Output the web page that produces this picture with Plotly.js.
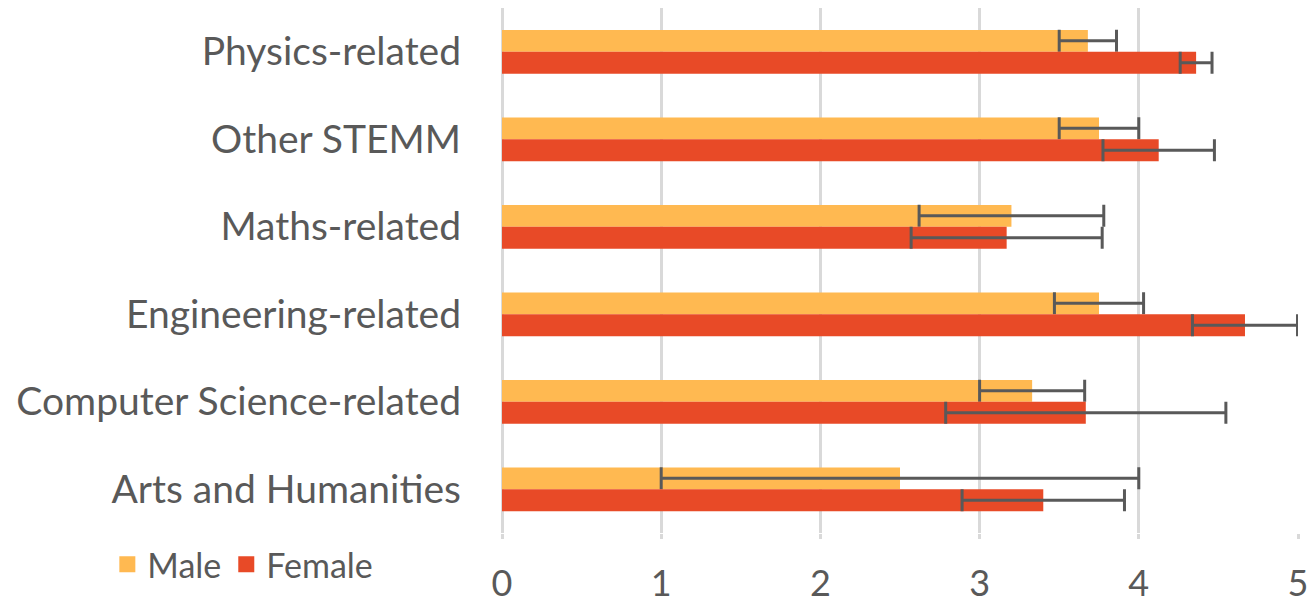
<!DOCTYPE html>
<html>
<head>
<meta charset="utf-8">
<script src="https://cdn.plot.ly/plotly-3.0.1.min.js"></script>
<style>html,body{margin:0;padding:0;background:#fff;}#chart{width:1309px;height:604px;}</style>
</head>
<body>
<div id="chart"></div>
<script>
const categories = ["Physics-related", "Other STEMM", "Maths-related", "Engineering-related", "Computer Science-related", "Arts and Humanities"];
const maleValues = [3.68, 3.75, 3.2, 3.75, 3.33, 2.5];
const maleErrors = [0.18, 0.25, 0.58, 0.28, 0.33, 1.5];
const femaleValues = [4.36, 4.125, 3.17, 4.667, 3.667, 3.4];
const femaleErrors = [0.1, 0.35, 0.6, 0.33, 0.88, 0.51];
const xTicks = [0, 1, 2, 3, 4, 5];
const seriesNames = ["Male", "Female"];
const seriesColors = ["#FFB951", "#E84A27"];

const FONT = "Lato, 'Liberation Sans', sans-serif";
const errStyle = {color: '#595959', thickness: 3, width: 11};

const traces = [
  {type: 'bar', orientation: 'h', name: seriesNames[0], y: categories, x: maleValues,
   marker: {color: seriesColors[0]}, showlegend: false,
   error_x: Object.assign({type: 'data', array: maleErrors, visible: true}, errStyle)},
  {type: 'bar', orientation: 'h', name: seriesNames[1], y: categories, x: femaleValues,
   marker: {color: seriesColors[1]}, showlegend: false,
   error_x: Object.assign({type: 'data', array: femaleErrors, visible: true}, errStyle)}
];
// legend proxies (larger square swatches)
seriesNames.forEach((n, i) => {
  traces.push({type: 'scatter', mode: 'markers', name: n, x: [null], y: [null],
    marker: {symbol: 'square', size: 16, color: seriesColors[i]}, showlegend: true, hoverinfo: 'skip'});
});

const layout = {
  width: 1309, height: 604,
  margin: {l: 502, r: 11, t: 8, b: 71},
  paper_bgcolor: '#fff', plot_bgcolor: '#fff',
  barmode: 'group', bargap: 0.5, bargroupgap: 0,
  font: {family: FONT, color: '#595959'},
  xaxis: {range: [0, 5], tickvals: xTicks, ticktext: xTicks.map(String),
    showgrid: true, gridcolor: '#D9D9D9', gridwidth: 3,
    zeroline: true, zerolinecolor: '#D9D9D9', zerolinewidth: 3,
    showline: false, ticks: 'outside', ticklen: 5, tickcolor: '#D9D9D9', tickwidth: 3,
    ticklabelstandoff: 14, tickfont: {size: 36, color: '#595959', family: FONT}},
  yaxis: {type: 'category', autorange: 'reversed', showgrid: false, zeroline: false,
    showline: false, ticks: '', ticklabelstandoff: 40,
    tickfont: {size: 39, color: '#595959', family: FONT}},
  showlegend: true,
  legend: {orientation: 'h', xref: 'container', yref: 'container', x: 0.082, y: 0.065,
    xanchor: 'left', yanchor: 'middle', font: {size: 34, color: '#595959', family: FONT},
    itemwidth: 30, traceorder: 'normal', itemsizing: 'trace'}
};

Plotly.newPlot('chart', traces, layout, {displayModeBar: false, staticPlot: true});
</script>
</body>
</html>
